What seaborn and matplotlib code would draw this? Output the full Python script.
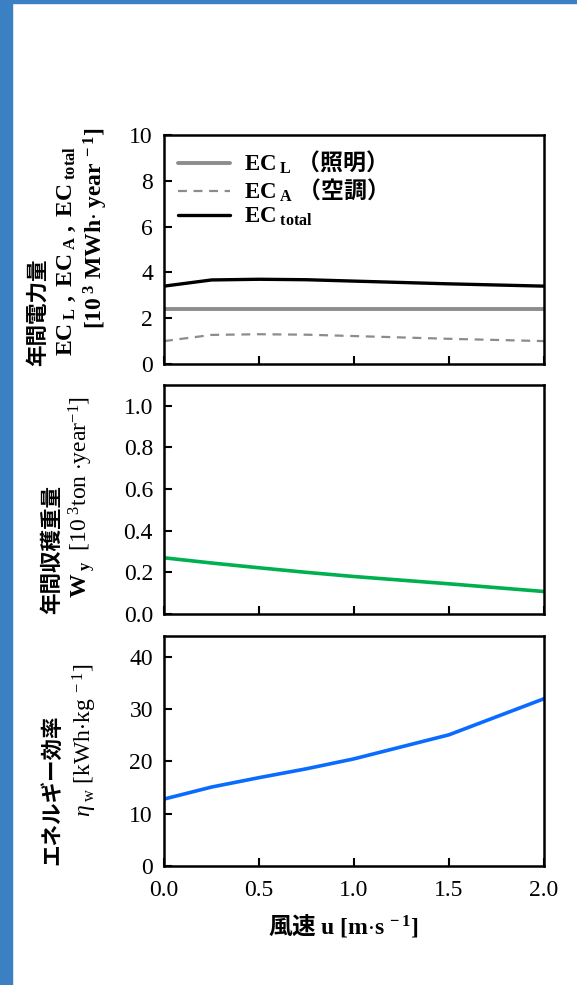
import seaborn as sns
import matplotlib.pyplot as plt
from matplotlib.patches import Rectangle

sns.set_style("white")
plt.rcParams['font.family'] = ['Liberation Serif', 'Noto Sans CJK JP', 'DejaVu Sans']
plt.rcParams['text.color'] = 'black'
plt.rcParams['xtick.color'] = 'black'
plt.rcParams['ytick.color'] = 'black'
plt.rcParams['mathtext.fontset'] = 'custom'
plt.rcParams['mathtext.default'] = 'regular'
plt.rcParams['mathtext.rm'] = 'Noto Sans CJK JP:bold'
plt.rcParams['mathtext.it'] = 'Liberation Serif:italic'
plt.rcParams['mathtext.sf'] = 'Liberation Serif'

# data
u = [0.0, 0.25, 0.5, 0.75, 1.0, 1.5, 2.0]
ec_l = [2.4, 2.4, 2.4, 2.4, 2.4, 2.4, 2.4]
ec_a = [1.0, 1.27, 1.3, 1.28, 1.22, 1.1, 1.0]
ec_total = [3.4, 3.67, 3.7, 3.68, 3.62, 3.5, 3.4]
wy = [0.27, 0.245, 0.222, 0.2, 0.18, 0.145, 0.108]
eta = [12.8, 15.1, 16.9, 18.6, 20.5, 25.1, 32.0]

x_ticks = [0.0, 0.5, 1.0, 1.5, 2.0]
ec_ticks = [0, 2, 4, 6, 8, 10]
wy_ticks = [0.0, 0.2, 0.4, 0.6, 0.8, 1.0]
eta_ticks = [0, 10, 20, 30, 40]

W, H = 577, 985
fig = plt.figure(figsize=(W / 100, H / 100), dpi=100)

# blue frame on the left and top
fig.patches.append(Rectangle((0, 0), 12 / W, 1, transform=fig.transFigure,
                             color='#3A80C2', zorder=-1))
fig.patches.append(Rectangle((0, 1 - 3 / H), 1, 3 / H, transform=fig.transFigure,
                             color='#3A80C2', zorder=-1))


def add_axes(top, bottom):
    return fig.add_axes([164 / W, 1 - bottom / H, 380 / W, (bottom - top) / H])


ax1 = add_axes(135, 364)
ax2 = add_axes(385, 614)
ax3 = add_axes(636, 866)

sns.lineplot(x=u, y=ec_l, ax=ax1, color='#8C8C8C', linewidth=2.8,
             label=r'$EC_{\ L}\ \mathrm{（照明）}$')
sns.lineplot(x=u, y=ec_a, ax=ax1, color='#8C8C8C', linewidth=1.6, linestyle='--',
             label=r'$EC_{\ A}\ \mathrm{（空調）}$')
sns.lineplot(x=u, y=ec_total, ax=ax1, color='black', linewidth=2.4,
             label=r'$EC_{\ total}$')
ax1.lines[1].set_dashes((4, 3))

sns.lineplot(x=u, y=wy, ax=ax2, color='#00B050', linewidth=2.6)
sns.lineplot(x=u, y=eta, ax=ax3, color='#0A6CFF', linewidth=2.6)

tick_font = {'family': 'Liberation Serif', 'size': 17, 'color': 'black'}
for ax, yt, ylim, fmt in [(ax1, ec_ticks, 10, '{:.0f}'),
                           (ax2, wy_ticks, 1.1, '{:.1f}'),
                           (ax3, eta_ticks, 44, '{:.0f}')]:
    ax.set_xlim(0, 2.0)
    ax.set_ylim(0, ylim)
    ax.set_xticks(x_ticks)
    ax.set_yticks(yt)
    ax.set_yticklabels([fmt.format(t) for t in yt], fontdict=tick_font)
    if ax is ax3:
        ax.set_xticklabels(['{:.1f}'.format(t) for t in x_ticks], fontdict=tick_font)
    else:
        ax.set_xticklabels([])
    ax.tick_params(direction='in', length=6, width=1.5, color='black',
                   left=True, bottom=True, pad=10)
    ax.tick_params(axis='y', pad=8)
    for s in ax.spines.values():
        s.set_visible(True)
        s.set_color('black')
        s.set_linewidth(1.8)

leg = ax1.legend(loc='upper left', frameon=False, handlelength=2.3,
                 labelspacing=0.05, borderaxespad=0.2, handletextpad=0.6,
                 prop={'family': 'Liberation Serif', 'weight': 'bold', 'size': 16.5})

cjk = {'family': 'Noto Sans CJK JP', 'weight': 'bold', 'size': 15.5, 'color': 'black'}
serif_b = {'family': 'Liberation Serif', 'weight': 'bold', 'size': 17, 'color': 'black'}
serif_r = {'family': 'Liberation Serif', 'weight': 'normal', 'size': 17, 'color': 'black'}


def vtext(x, y, s, fd):
    fig.text(x / W, 1 - y / H, s, rotation=90, ha='center', va='center', fontdict=fd)


# y labels
vtext(37, 312, '年間電力量', cjk)
vtext(67, 251, r'$EC_{\ L}\ ,\ EC_{\ A}\ ,\ EC_{\ total}$', serif_b)
vtext(96, 228, r'$[10^{\ 3}\ MWh{\cdot}\ year^{\ -1}]$', serif_b)

vtext(52, 550, '年間収穫重量', cjk)
vtext(82, 497, r'$W_{\ y}\ \ \mathsf{[10^{\ 3}ton\ {\cdot}year^{-1}]}$', serif_b)

vtext(52, 790, 'エネルギー効率', cjk)
vtext(85, 740, r'$\mathit{\eta}_{\ w}\ [kWh{\cdot}kg^{\ -1}]$', serif_r)

# x label
fig.text(343 / W, 1 - 925 / H, r'$\mathrm{風速}\ u\ [m{\cdot}s^{\ -1}]$',
         ha='center', va='center', fontdict=serif_b)

fig.savefig('out.png', dpi=100)
